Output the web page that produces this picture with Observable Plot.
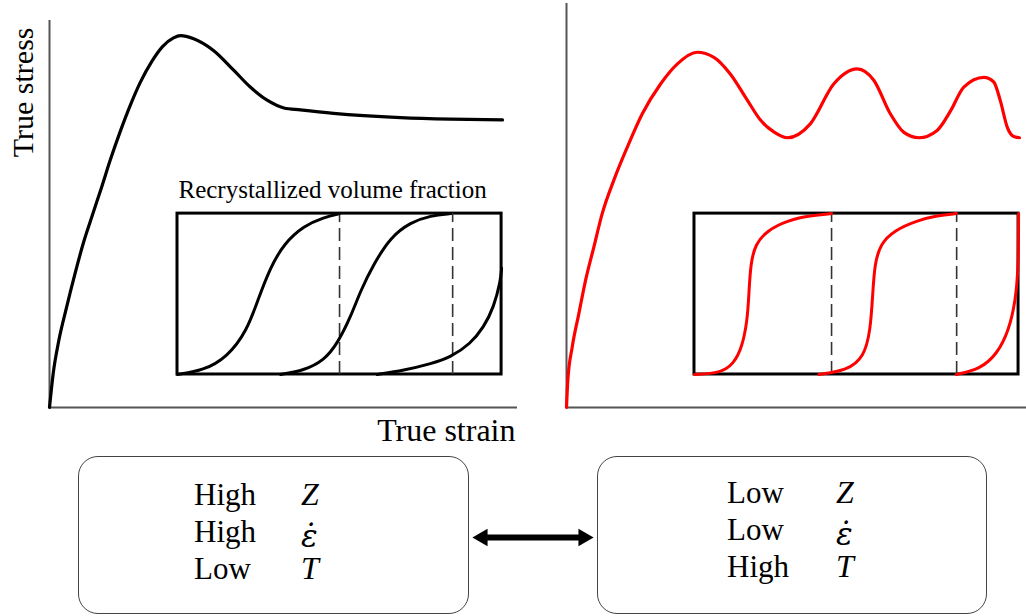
<!DOCTYPE html>
<html><head><meta charset="utf-8">
<script src="https://cdn.jsdelivr.net/npm/d3@7"></script>
<script src="https://cdn.jsdelivr.net/npm/@observablehq/plot@0.6"></script>
<style>
body{margin:0;background:#fff;}
#fig{position:relative;width:1026px;height:616px;overflow:hidden;font-family:"Liberation Serif","Tinos","Times New Roman","DejaVu Serif",serif;color:#000;}
.abs{position:absolute;}
.box{position:absolute;top:456px;height:158px;border:1.5px solid #444;border-radius:20px;box-sizing:border-box;}
.cell{position:absolute;font-size:31px;line-height:30px;white-space:pre;}
.sym{font-style:italic;font-size:32px;}
.eps{font-family:"DejaVu Serif",serif;font-size:31px;}
</style></head><body><div id="fig"></div>
<script>
// ---------- data (schematic units: strain 0..1, stress 0..1) ----------
const singlePeakStrain = [0,0.0079,0.0199,0.0363,0.0541,0.0733,0.0919,0.111,0.130,0.152,0.173,0.194,0.219,0.241,0.265,0.280,0.308,0.351,0.394,0.429,0.465,0.501,0.536,0.607,0.750,0.857,0.968];
const singlePeakStress = [0,0.088,0.173,0.258,0.344,0.429,0.498,0.568,0.640,0.716,0.782,0.840,0.895,0.932,0.955,0.961,0.953,0.922,0.871,0.828,0.794,0.774,0.769,0.760,0.749,0.745,0.743];

const multiPeakStrain = [0,0.0028,0.0122,0.0263,0.0406,0.0583,0.0763,0.101,0.130,0.162,0.201,0.237,0.279,0.315,0.350,0.386,0.415,0.443,0.472,0.521,0.571,0.621,0.657,0.692,0.721,0.753,0.792,0.821,0.849,0.892,0.913,0.927,0.942,0.956,0.968];
const multiPeakStress = [0,0.070,0.156,0.242,0.328,0.414,0.501,0.587,0.673,0.759,0.836,0.888,0.918,0.905,0.862,0.795,0.742,0.712,0.697,0.733,0.836,0.875,0.845,0.759,0.711,0.697,0.716,0.767,0.828,0.853,0.841,0.793,0.724,0.700,0.697];

// recrystallized volume fraction curves: [relative strain in inset, fraction]
const leftFractionCurves = [
  [[0,0],[0.080,0.025],[0.153,0.107],[0.215,0.273],[0.251,0.480],[0.287,0.666],[0.328,0.812],[0.390,0.925],[0.452,0.977],[0.50,1]],
  [[0.318,0],[0.390,0.025],[0.452,0.087],[0.493,0.191],[0.534,0.356],[0.565,0.522],[0.606,0.688],[0.657,0.853],[0.719,0.946],[0.781,0.988],[0.843,1]],
  [[0.616,0],[0.698,0.025],[0.781,0.066],[0.843,0.107],[0.904,0.191],[0.945,0.294],[0.976,0.418],[0.997,0.584],[1,0.66]]
];
const rightFractionCurves = [
  [[0,0],[0.080,0.008],[0.121,0.066],[0.147,0.170],[0.163,0.335],[0.168,0.501],[0.173,0.688],[0.188,0.812],[0.224,0.894],[0.286,0.957],[0.358,0.988],[0.423,1]],
  [[0.384,0],[0.471,0.025],[0.523,0.107],[0.543,0.273],[0.550,0.501],[0.556,0.688],[0.574,0.812],[0.615,0.894],[0.687,0.957],[0.749,0.988],[0.808,1]],
  [[0.808,0],[0.883,0.035],[0.934,0.128],[0.970,0.273],[0.991,0.460],[0.999,0.666],[1,0.873],[1,1]]
];
const leftCompletion = [0.5, 0.849];
const rightCompletion = [0.423, 0.809];

const leftLevels = ["High", "High", "Low"];
const rightLevels = ["Low", "Low", "High"];
const parameters = ["Z", "\u03B5\u0307", "T"];
const labels = {stress: "True stress", strain: "True strain", inset: "Recrystallized volume fraction"};

// ---------- layout ----------
const inset = {x0: 0.2735, x1: 0.966, y0: 0.0853, y1: 0.501};
const ix = u => inset.x0 + u * (inset.x1 - inset.x0);
const iy = f => inset.y0 + f * (inset.y1 - inset.y0);
const FONT = "'Liberation Serif','Tinos','Times New Roman','DejaVu Serif',serif";

function panel({strain, stress, color, curves, completion, xMax, yTop, width, marginLeft, marginRight, showLabels}) {
  const main = strain.map((s, i) => ({strain: s, stress: stress[i]}));
  const frac = curves.flatMap((c, k) => c.map(([u, f]) => ({id: k, x: ix(u), y: iy(f)})));
  const marks = [
    Plot.ruleX([0], {y1: 0, y2: yTop, stroke: "#555", strokeWidth: 2}),
    Plot.ruleY([0], {x1: 0, x2: xMax, stroke: "#555", strokeWidth: 2}),
    Plot.rect([inset], {x1: "x0", x2: "x1", y1: "y0", y2: "y1", fill: "none", stroke: "#000", strokeWidth: 3}),
    Plot.ruleX(completion.map(ix), {y1: inset.y0, y2: inset.y1, stroke: "#333", strokeWidth: 1.6, strokeDasharray: "13,6"}),
    Plot.line(frac, {x: "x", y: "y", z: "id", stroke: color, strokeWidth: 3, curve: "basis"}),
    Plot.line(main, {x: "strain", y: "stress", stroke: color, strokeWidth: 3.2, curve: "monotone-x"})
  ];
  if (showLabels) {
    marks.push(
      Plot.text([labels.stress], {frameAnchor: "top-left", text: d => d, rotate: -90, textAnchor: "end", lineAnchor: "bottom", dx: -17, dy: 7, fontSize: 30}),
      Plot.text([labels.strain], {frameAnchor: "bottom-right", text: d => d, textAnchor: "end", lineAnchor: "bottom", dx: -2, dy: 33, fontSize: 32}),
      Plot.text([labels.inset], {x: inset.x0, y: inset.y1, text: d => d, textAnchor: "start", lineAnchor: "bottom", dx: 1, dy: -16, fontSize: 25})
    );
  }
  return Plot.plot({
    width, height: 450, marginLeft, marginRight, marginTop: 20, marginBottom: 43,
    x: {domain: [0, xMax], axis: null},
    y: {domain: [0, 1], axis: null},
    style: {fontFamily: FONT, background: "transparent", overflow: "visible"},
    marks
  });
}

const fig = document.getElementById("fig");

const left = panel({strain: singlePeakStrain, stress: singlePeakStress, color: "#000", curves: leftFractionCurves,
  completion: leftCompletion, xMax: 1, yTop: 1, width: 520, marginLeft: 49, marginRight: 3, showLabels: true});
left.classList.add("abs"); left.style.left = "0px"; left.style.top = "0px";
fig.appendChild(left);

const right = panel({strain: multiPeakStrain, stress: multiPeakStress, color: "#ff0000", curves: rightFractionCurves,
  completion: rightCompletion, xMax: 0.983, yTop: 1.044, width: 506, marginLeft: 46, marginRight: 0, showLabels: false});
right.classList.add("abs"); right.style.left = "520px"; right.style.top = "0px";
fig.appendChild(right);

// ---------- condition boxes ----------
// cell with line-height 30px: baseline = top + (30 - 1.107*fs)/2 + 0.891*fs
function cell(text, leftPx, baseline, cls, fs) {
  const d = document.createElement("div");
  d.className = "cell " + cls;
  d.style.left = leftPx + "px";
  d.style.top = (baseline - (15 + 0.3375 * fs)) + "px";
  d.textContent = text;
  fig.appendChild(d);
  return d;
}
function box(leftPx, widthPx, levels, labelLeft, symLeft, baselines) {
  const b = document.createElement("div");
  b.className = "box"; b.style.left = leftPx + "px"; b.style.width = widthPx + "px";
  fig.appendChild(b);
  levels.forEach((lv, i) => cell(lv, labelLeft, baselines[i], "", 31));
  parameters.forEach((p, i) => {
    if (i === 1) cell(p, symLeft, baselines[i] + 4, "sym eps", 31);
    else cell(p, symLeft, baselines[i], "sym", 32);
  });
}
box(78, 391, leftLevels, 194, 301, [505, 542, 579]);
box(597, 390, rightLevels, 727, 836, [503, 540, 577]);

// ---------- double-headed arrow ----------
const arrow = Plot.plot({
  width: 140, height: 30, marginLeft: 13, marginRight: 8, marginTop: 0, marginBottom: 0,
  x: {domain: [0, 1], axis: null}, y: {domain: [-1, 1], axis: null},
  style: {background: "transparent", overflow: "visible"},
  marks: [
    Plot.ruleY([0], {x1: 0, x2: 1, stroke: "#000", strokeWidth: 6, insetLeft: 10, insetRight: 10}),
    Plot.dot([0], {x: d => d, y: 0, symbol: "triangle", r: 6.5, rotate: -90, dx: 9, fill: "#000", stroke: "none"}),
    Plot.dot([1], {x: d => d, y: 0, symbol: "triangle", r: 6.5, rotate: 90, dx: -9, fill: "#000", stroke: "none"})
  ]
});
arrow.classList.add("abs"); arrow.style.left = "460px"; arrow.style.top = "522px";
fig.appendChild(arrow);
</script></body></html>
